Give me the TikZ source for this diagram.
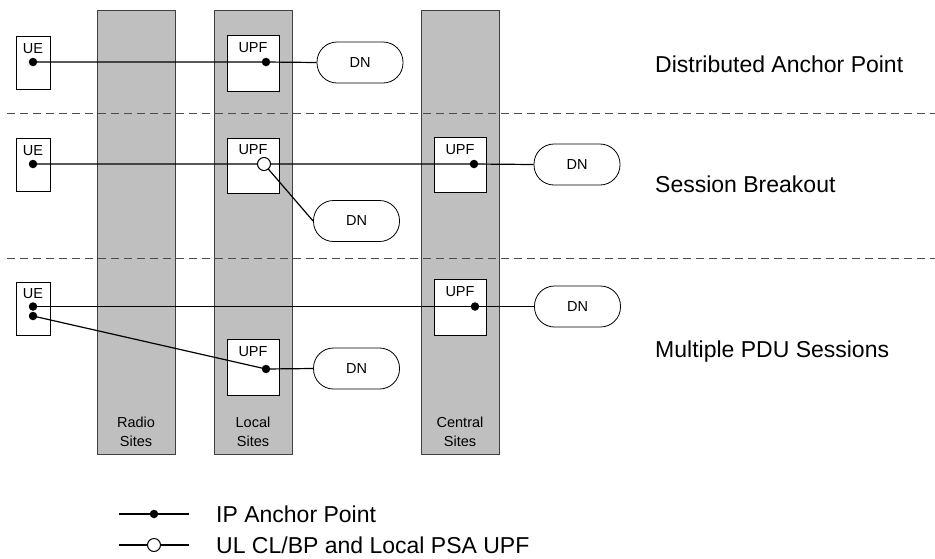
\documentclass[tikz,border=0pt]{standalone}
\usepackage{fontspec}
\setmainfont{Liberation Sans}
\begin{document}
\begin{tikzpicture}[x=1pt,y=-1pt,
  site/.style={draw=black!75, fill=black!25, line width=0.9pt, inner sep=0pt},
  box/.style={draw=black, fill=white, line width=0.8pt, inner sep=0pt},
  dn/.style={draw=black, fill=white, rounded corners=20pt, minimum width=86pt, minimum height=41pt, inner sep=0pt, line width=0.8pt, font=\fontsize{14.5}{17}\selectfont},
  conn/.style={line width=1.2pt},
  ipdot/.style={circle, fill=black, inner sep=0pt, minimum size=8.5pt},
  brk/.style={circle, draw=black, fill=white, line width=1pt, inner sep=0pt, minimum size=13pt},
  sep/.style={dash pattern=on 8pt off 5pt, line width=0.9pt, draw=black!70},
  lbl/.style={font=\fontsize{23}{26}\selectfont, anchor=west, inner sep=0pt},
  small/.style={font=\fontsize{14.5}{19}\selectfont, inner sep=0pt, align=center}]
\useasboundingbox (0,0) rectangle (935,558);

% site columns
\node[site, minimum width=78pt, minimum height=444pt] (radio) at (136,232) {};
\node[site, minimum width=78pt, minimum height=444pt] (local) at (253,232) {};
\node[site, minimum width=78pt, minimum height=444pt] (central) at (460,232) {};
\node[small] (radiol) at (136,432) {Radio\\Sites};
\node[small] (locall) at (253,432) {Local\\Sites};
\node[small] (centrall) at (460,432) {Central\\Sites};

% separators
\draw[sep] (7,113) -- (935,113);
\draw[sep] (7,258) -- (935,258);

% ---------- row 1 ----------
\node[box, minimum width=34pt, minimum height=53pt] (ue1) at (33,62.5) {};
\node[small] (ue1l) at (33,49) {UE};
\node[box, minimum width=52pt, minimum height=56pt] (upf1) at (253,63) {};
\node[small] (upf1l) at (253,48) {UPF};
\node[dn] (dn1) at (360,62.5) {DN};
\coordinate (d1a) at (33,62);
\coordinate (d1b) at (266,62);
\draw[conn] (d1a) -- (d1b) -- (dn1.west);
\node[ipdot] (d1an) at (d1a) {};
\node[ipdot] (d1bn) at (d1b) {};

% ---------- row 2 ----------
\node[box, minimum width=34pt, minimum height=53pt] (ue2) at (33,164.5) {};
\node[small] (ue2l) at (33,151) {UE};
\node[box, minimum width=52pt, minimum height=55pt] (upf2) at (253,165.5) {};
\node[small] (upf2l) at (253,150) {UPF};
\node[box, minimum width=52pt, minimum height=55pt] (upf3) at (460,164.5) {};
\node[small] (upf3l) at (460,150) {UPF};
\node[dn] (dn2) at (577,164.5) {DN};
\node[dn] (dn3) at (356.5,221) {DN};
\coordinate (d2a) at (33,164);
\coordinate (c2) at (264,164);
\coordinate (d2c) at (474,164);
\draw[conn] (d2a) -- (c2) -- (d2c) -- (dn2.west);
\draw[conn] (c2) -- (dn3.west);
\node[ipdot] (d2an) at (d2a) {};
\node[brk] (c2n) at (c2) {};
\node[ipdot] (d2cn) at (d2c) {};

% ---------- row 3 ----------
\node[box, minimum width=34pt, minimum height=53pt] (ue3) at (33,308.5) {};
\node[small] (ue3l) at (33,294) {UE};
\node[box, minimum width=52pt, minimum height=56pt] (upf4) at (460,307) {};
\node[small] (upf4l) at (460,292) {UPF};
\node[box, minimum width=52pt, minimum height=56pt] (upf5) at (253,367) {};
\node[small] (upf5l) at (253,352) {UPF};
\node[dn] (dn4) at (577.5,306.5) {DN};
\node[dn] (dn5) at (356.5,368.5) {DN};
\coordinate (d3a) at (33,306.5);
\coordinate (d3b) at (33,316);
\coordinate (d3c) at (475,306.5);
\coordinate (d3d) at (266,369);
\draw[conn] (d3a) -- (d3c) -- (dn4.west);
\draw[conn] (d3b) -- (d3d) -- (dn5.west);
\node[ipdot] (d3an) at (d3a) {};
\node[ipdot] (d3bn) at (d3b) {};
\node[ipdot] (d3cn) at (d3c) {};
\node[ipdot] (d3dn) at (d3d) {};

% scenario labels
\node[lbl] (t1) at (655,64) {Distributed Anchor Point};
\node[lbl] (t2) at (655,184) {Session Breakout};
\node[lbl] (t3) at (655,352) {Multiple PDU Sessions};

% legend
\coordinate (l1a) at (119,514);
\coordinate (l1b) at (189,514);
\coordinate (l2a) at (119,545);
\coordinate (l2b) at (189,545);
\draw[conn] (l1a) -- (l1b);
\draw[conn] (l2a) -- (l2b);
\node[ipdot] (l1d) at (154,514) {};
\node[brk] (l2d) at (154,545) {};
\node[lbl] (lt1) at (216,514) {IP Anchor Point};
\node[lbl] (lt2) at (216,545) {UL CL/BP and Local PSA UPF};
\end{tikzpicture}
\end{document}
